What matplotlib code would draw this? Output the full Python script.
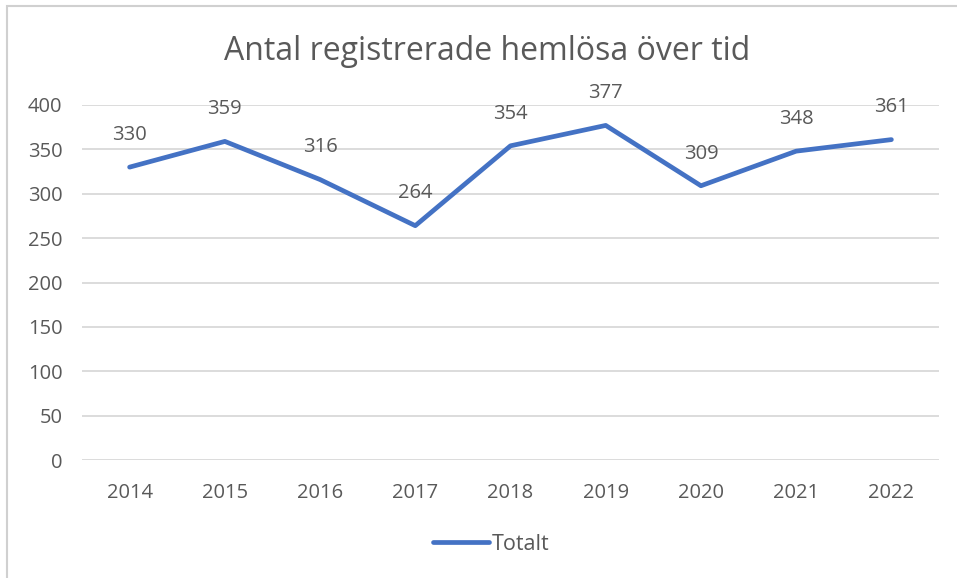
import matplotlib
matplotlib.use("Agg")
import matplotlib.pyplot as plt
from matplotlib.patches import Rectangle

years = ["2014", "2015", "2016", "2017", "2018", "2019", "2020", "2021", "2022"]
totalt = [330, 359, 316, 264, 354, 377, 309, 348, 361]
yticks = [0, 50, 100, 150, 200, 250, 300, 350, 400]

W, H = 957, 578
fig = plt.figure(figsize=(W / 100, H / 100), dpi=100)
plt.rcParams['font.family'] = ['Open Sans', 'DejaVu Sans']
txt = '#595959'

# outer chart border
fig.patches.append(Rectangle((7 / W, -0.05), 1.2, 1.05 - 6 / H, transform=fig.transFigure,
                             fill=False, edgecolor='#D0D0D0', linewidth=1.5, figure=fig))

ax = fig.add_axes([82 / W, 1 - 460 / H, (939 - 82) / W, (460 - 105) / H])
x = list(range(len(years)))
ax.plot(x, totalt, color='#4472C4', linewidth=3.4, solid_capstyle='round',
        solid_joinstyle='round', label='Totalt', zorder=3)
for xi, v in zip(x, totalt):
    ax.annotate(str(v), (xi, v), xytext=(0, 16), textcoords='offset points',
                ha='center', va='bottom', fontsize=14.5, color=txt)

ax.set_xlim(-0.5, len(years) - 0.5)
ax.set_ylim(0, 400)
ax.set_yticks(yticks)
ax.set_xticks(x)
ax.set_xticklabels(years)
ax.tick_params(axis='both', length=0, labelsize=14.5, labelcolor=txt)
ax.tick_params(axis='y', pad=14)
ax.tick_params(axis='x', pad=16.5)
ax.grid(axis='y', color='#D9D9D9', linewidth=1.3)
ax.set_axisbelow(True)
for s in ax.spines.values():
    s.set_visible(False)

fig.text(487 / W, 1 - 52 / H, "Antal registrerade hemlösa över tid", ha='center', va='center',
         fontsize=23, color=txt)

fig.legend(loc='center', bbox_to_anchor=(491 / W, 1 - 544 / H), frameon=False,
           fontsize=15.5, labelcolor=txt, handlelength=2.6, handletextpad=0.1)

fig.savefig("out.png", dpi=100)
